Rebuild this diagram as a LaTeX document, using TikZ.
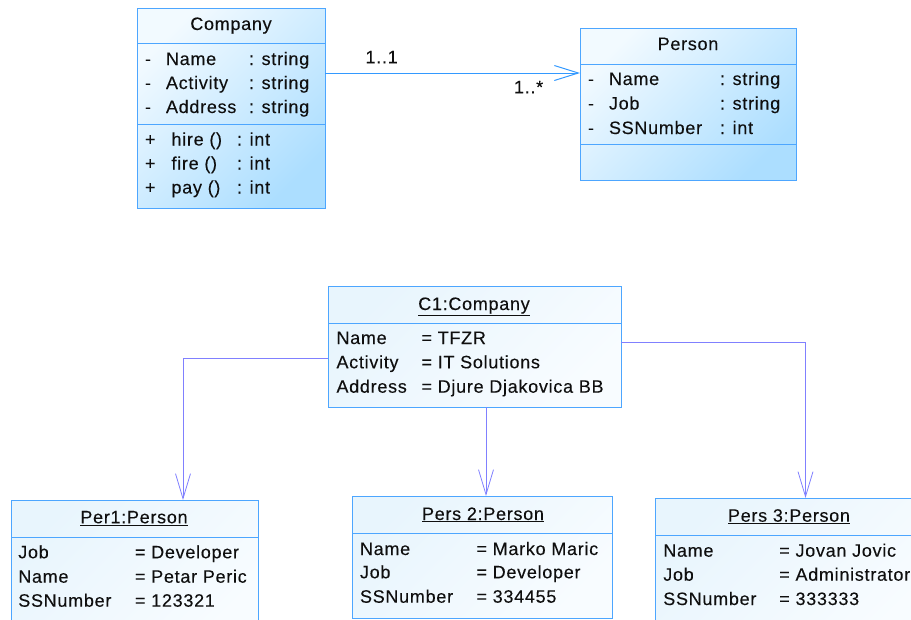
\documentclass[tikz,border=0pt]{standalone}
\usepackage{fontspec}
\setmainfont[LetterSpace=4,FakeBold=0.15]{Liberation Sans}
\usetikzlibrary{arrows.meta}
\definecolor{bord}{RGB}{77,166,255}
\definecolor{clsA}{RGB}{242,250,255}
\definecolor{clsB}{RGB}{172,222,255}
\definecolor{objA}{RGB}{232,245,253}
\definecolor{objB}{RGB}{248,252,255}
\definecolor{lnk}{RGB}{128,128,255}
\definecolor{asc}{RGB}{51,153,255}
\definecolor{ink}{RGB}{15,15,15}
\begin{document}
\begin{tikzpicture}[x=1pt,y=-1pt,
  every node/.style={font=\fontsize{18}{21}\selectfont, text=ink},
  txt/.style={anchor=base west, inner sep=0pt, outer sep=0pt},
  ttl/.style={anchor=base, inner sep=0pt, outer sep=0pt},
  clsbox/.style={rectangle, draw=bord, line width=1pt, inner sep=0pt, outer sep=0pt,
    top color=clsA, bottom color=clsB, shading angle=45},
  objbox/.style={rectangle, draw=bord, line width=1pt, inner sep=0pt, outer sep=0pt,
    top color=objA, bottom color=objB, shading angle=45},
  sep/.style={draw=bord, line width=1pt},
  assoc/.style={draw=asc, line width=1pt, -{Straight Barb[length=24pt,width=15pt]}},
  link/.style={draw=lnk, line width=0.8pt, -{Straight Barb[length=25pt,width=15pt]}}
]
\useasboundingbox (0,0) rectangle (911,619);

% ---------- Company class ----------
\node[clsbox, minimum width=188pt, minimum height=200pt] (company) at (231,108) {};
\draw[sep] (company.west |- 0,43) -- (company.east |- 0,43);
\draw[sep] (company.west |- 0,124) -- (company.east |- 0,124);
\node[ttl] (companyT) at (231,30) {Company};
\node[txt] (ca1s) at (145,65) {-};
\node[txt] (ca1n) at (166,65) {Name};
\node[txt] (ca1t) at (249,65) {: string};
\node[txt] (ca2s) at (145,89) {-};
\node[txt] (ca2n) at (166,89) {Activity};
\node[txt] (ca2t) at (249,89) {: string};
\node[txt] (ca3s) at (145,113) {-};
\node[txt] (ca3n) at (166,113) {Address};
\node[txt] (ca3t) at (249,113) {: string};
\node[txt] (cm1s) at (145,145.5) {+};
\node[txt] (cm1n) at (171.5,145.5) {hire ()};
\node[txt] (cm1t) at (237,145.5) {: int};
\node[txt] (cm2s) at (145,169.5) {+};
\node[txt] (cm2n) at (171.5,169.5) {fire ()};
\node[txt] (cm2t) at (237,169.5) {: int};
\node[txt] (cm3s) at (145,193.5) {+};
\node[txt] (cm3n) at (171.5,193.5) {pay ()};
\node[txt] (cm3t) at (237,193.5) {: int};

% ---------- Person class ----------
\node[clsbox, minimum width=216pt, minimum height=152pt] (person) at (688,104) {};
\draw[sep] (person.west |- 0,64) -- (person.east |- 0,64);
\draw[sep] (person.west |- 0,144) -- (person.east |- 0,144);
\node[ttl] (personT) at (688,50) {Person};
\node[txt] (pa1s) at (588,85) {-};
\node[txt] (pa1n) at (609,85) {Name};
\node[txt] (pa1t) at (720,85) {: string};
\node[txt] (pa2s) at (588,109.5) {-};
\node[txt] (pa2n) at (609,109.5) {Job};
\node[txt] (pa2t) at (720,109.5) {: string};
\node[txt] (pa3s) at (588,134) {-};
\node[txt] (pa3n) at (609,134) {SSNumber};
\node[txt] (pa3t) at (720,134) {: int};

% association
\coordinate (ay) at (0,73);
\draw[assoc] (company.east |- ay) -- (person.west |- ay);
\node[txt] (m1) at (365.5,63.3) {1..1};
\node[txt] (m2) at (514,93.3) {1..*};

% ---------- C1 object ----------
\node[objbox, minimum width=293pt, minimum height=121pt] (c1) at (474.5,346.5) {};
\draw[sep] (c1.west |- 0,323) -- (c1.east |- 0,323);
\node[ttl] (c1T) at (474,310) {\underline{C1:Company}};
\node[txt] (c1a) at (336.5,344) {Name};
\node[txt] (c1av) at (421.5,344) {= TFZR};
\node[txt] (c1b) at (336.5,368.3) {Activity};
\node[txt] (c1bv) at (421.5,368.3) {= IT Solutions};
\node[txt] (c1c) at (336.5,392.7) {Address};
\node[txt] (c1cv) at (421.5,392.7) {= Djure Djakovica BB};

% ---------- Per1 ----------
\node[objbox, minimum width=247pt, minimum height=140pt] (per1) at (134.5,570) {};
\draw[sep] (per1.west |- 0,537) -- (per1.east |- 0,537);
\node[ttl] (per1T) at (134,523.3) {\underline{Per1:Person}};
\node[txt] (p1a) at (18.3,558.3) {Job};
\node[txt] (p1av) at (135,558.3) {= Developer};
\node[txt] (p1b) at (18.3,582.7) {Name};
\node[txt] (p1bv) at (135,582.7) {= Petar Peric};
\node[txt] (p1c) at (18.3,606.7) {SSNumber};
\node[txt] (p1cv) at (135,606.7) {= 123321};

% ---------- Pers 2 ----------
\node[objbox, minimum width=260pt, minimum height=122pt] (pers2) at (482,557) {};
\draw[sep] (pers2.west |- 0,533) -- (pers2.east |- 0,533);
\node[ttl] (pers2T) at (483,520) {\underline{Pers 2:Person}};
\node[txt] (p2a) at (360,555) {Name};
\node[txt] (p2av) at (476.5,555) {= Marko Maric};
\node[txt] (p2b) at (360,578.3) {Job};
\node[txt] (p2bv) at (476.5,578.3) {= Developer};
\node[txt] (p2c) at (360,602.7) {SSNumber};
\node[txt] (p2cv) at (476.5,602.7) {= 334455};

% ---------- Pers 3 ----------
\node[objbox, minimum width=275pt, minimum height=142pt] (pers3) at (792.5,569) {};
\draw[sep] (pers3.west |- 0,535) -- (pers3.east |- 0,535);
\node[ttl] (pers3T) at (789,521.7) {\underline{Pers 3:Person}};
\node[txt] (p3a) at (663.3,556.7) {Name};
\node[txt] (p3av) at (779.3,556.7) {= Jovan Jovic};
\node[txt] (p3b) at (663.3,580.7) {Job};
\node[txt] (p3bv) at (779.3,580.7) {= Administrator};
\node[txt] (p3c) at (663.3,605) {SSNumber};
\node[txt] (p3cv) at (779.3,605) {= 333333};

% ---------- links ----------
\coordinate (l1y) at (0,358);
\coordinate (l1x) at (183,0);
\coordinate (l2x) at (486,0);
\coordinate (l3y) at (0,342);
\coordinate (l3x) at (805.5,0);
\draw[link] (c1.west |- l1y) -| (per1.north -| l1x);
\draw[link] (c1.south -| l2x) -- (pers2.north -| l2x);
\draw[link] (c1.east |- l3y) -| (pers3.north -| l3x);
\end{tikzpicture}
\end{document}
